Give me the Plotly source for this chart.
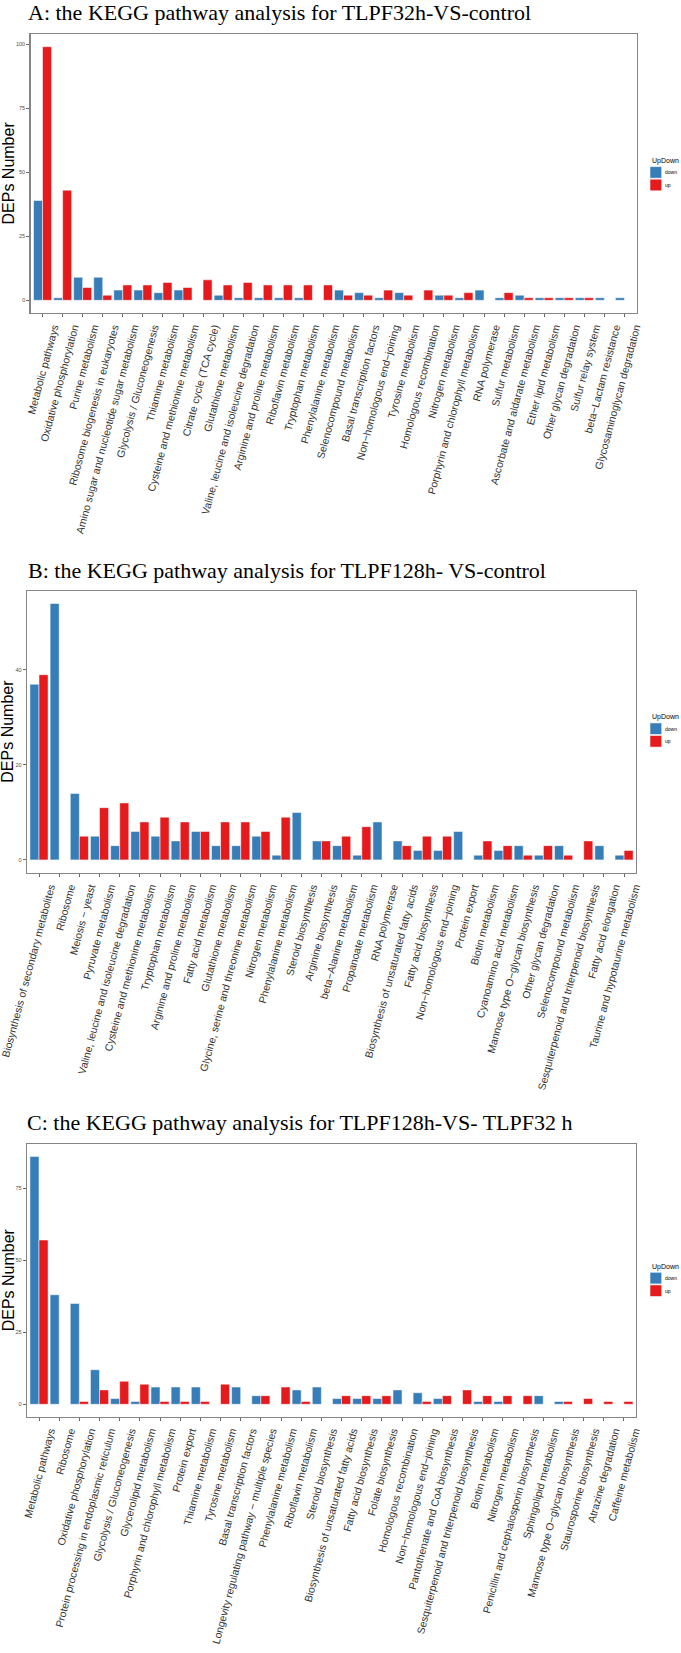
import plotly.graph_objects as go

W, H = 681, 1653

# ---------------- data ----------------
a_cats = ["Metabolic pathways", "Oxidative phosphorylation", "Purine metabolism",
          "Ribosome biogenesis in eukaryotes", "Amino sugar and nucleotide sugar metabolism",
          "Glycolysis / Gluconeogenesis", "Thiamine metabolism", "Cysteine and methionine metabolism",
          "Citrate cycle (TCA cycle)", "Glutathione metabolism",
          "Valine, leucine and isoleucine degradation", "Arginine and proline metabolism",
          "Riboflavin metabolism", "Tryptophan metabolism", "Phenylalanine metabolism",
          "Selenocompound metabolism", "Basal transcription factors", "Non\u2212homologous end\u2212joining",
          "Tyrosine metabolism", "Homologous recombination", "Nitrogen metabolism",
          "Porphyrin and chlorophyll metabolism", "RNA polymerase", "Sulfur metabolism",
          "Ascorbate and aldarate metabolism", "Ether lipid metabolism", "Other glycan degradation",
          "Sulfur relay system", "beta\u2212Lactam resistance", "Glycosaminoglycan degradation"]
a_down = [39, 1, 9, 9, 4, 4, 3, 4, None, 2, 1, 1, 1, 1, None, 4, 3, 1, 3, None, 2, 1, 4, 1, 2, 1, 1, 1, 1, 1]
a_up = [99, 43, 5, 2, 6, 6, 7, 5, 8, 6, 7, 6, 6, 6, 6, 2, 2, 4, 2, 4, 2, 3, None, 3, 1, 1, 1, 1, None, None]

b_cats = ["Biosynthesis of secondary metabolites", "Ribosome", "Meiosis \u2212 yeast", "Pyruvate metabolism",
          "Valine, leucine and isoleucine degradation", "Cysteine and methionine metabolism",
          "Tryptophan metabolism", "Arginine and proline metabolism", "Fatty acid metabolism",
          "Glutathione metabolism", "Glycine, serine and threonine metabolism", "Nitrogen metabolism",
          "Phenylalanine metabolism", "Steroid biosynthesis", "Arginine biosynthesis",
          "beta\u2212Alanine metabolism", "Propanoate metabolism", "RNA polymerase",
          "Biosynthesis of unsaturated fatty acids", "Fatty acid biosynthesis",
          "Non\u2212homologous end\u2212joining", "Protein export", "Biotin metabolism",
          "Cyanoamino acid metabolism", "Mannose type O\u2212glycan biosynthesis", "Other glycan degradation",
          "Selenocompound metabolism", "Sesquiterpenoid and triterpenoid biosynthesis",
          "Fatty acid elongation", "Taurine and hypotaurine metabolism"]
b_down = [37, 54, 14, 5, 3, 6, 5, 4, 6, 3, 3, 5, 1, 10, 4, 3, 1, 8, 4, 2, 2, 6, 1, 2, 3, 1, 3, None, 3, 1]
b_up = [39, None, 5, 11, 12, 8, 9, 8, 6, 8, 8, 6, 9, None, 4, 5, 7, None, 3, 5, 5, None, 4, 3, 1, 3, 1, 4, None, 2]

c_cats = ["Metabolic pathways", "Ribosome", "Oxidative phosphorylation",
          "Protein processing in endoplasmic reticulum", "Glycolysis / Gluconeogenesis",
          "Glycerolipid metabolism", "Porphyrin and chlorophyll metabolism", "Protein export",
          "Thiamine metabolism", "Tyrosine metabolism", "Basal transcription factors",
          "Longevity regulating pathway \u2212 multiple species", "Phenylalanine metabolism",
          "Riboflavin metabolism", "Steroid biosynthesis", "Biosynthesis of unsaturated fatty acids",
          "Fatty acid biosynthesis", "Folate biosynthesis", "Homologous recombination",
          "Non\u2212homologous end\u2212joining", "Pantothenate and CoA biosynthesis",
          "Sesquiterpenoid and triterpenoid biosynthesis", "Biotin metabolism", "Nitrogen metabolism",
          "Penicillin and cephalosporin biosynthesis", "Sphingolipid metabolism",
          "Mannose type O\u2212glycan biosynthesis", "Staurosporine biosynthesis", "Atrazine degradation",
          "Caffeine metabolism"]
c_down = [86, 38, 35, 12, 2, 1, 6, 6, 6, None, 6, 3, None, 5, 6, 2, 2, 2, 5, 4, 2, None, 1, 1, None, 3, 1, None, None, None]
c_up = [57, None, 1, 5, 8, 7, 1, 1, 1, 7, None, 3, 6, 1, None, 3, 3, 3, None, 1, 3, 5, 3, 3, 3, None, 1, 2, 1, 1]

titles = ["A: the KEGG pathway analysis for TLPF32h-VS-control",
          "B: the KEGG pathway analysis for TLPF128h- VS-control",
          "C: the KEGG pathway analysis for TLPF128h-VS- TLPF32 h"]
y_ticks = [[0, 25, 50, 75, 100], [0, 20, 40], [0, 25, 50, 75]]
series_names = ["down", "up"]
legend_title = "UpDown"
y_title = "DEPs Number"

BLUE = "#377EB8"
RED = "#E41A1C"
SANS = "Liberation Sans, Arial, sans-serif"
SERIF = "Liberation Serif, Times New Roman, serif"

# ---------------- layout geometry (pixels) ----------------
frames = [(30.5, 636.5, 34, 313), (26.9, 636.2, 590.7, 872.7), (26.9, 636.0, 1144, 1416.7)]
title_y = [12.5, 570, 1122]
title_x = [26, 26, 25]
legend_y = [161, 717.3, 1266.7]


def px(x):
    return x / W


def py(y):
    return 1 - y / H


fig = go.Figure()

panels = [(a_cats, a_down, a_up), (b_cats, b_down, b_up), (c_cats, c_down, c_up)]

for i, (cats, down, up) in enumerate(panels):
    xa = "x" if i == 0 else f"x{i + 1}"
    ya = "y" if i == 0 else f"y{i + 1}"
    for vals, name, col in [(down, series_names[0], BLUE), (up, series_names[1], RED)]:
        fig.add_trace(go.Bar(
            x=cats, y=vals, name=name, xaxis=xa, yaxis=ya,
            marker=dict(color=col, line=dict(color="rgba(255,255,255,0.75)", width=0.7)),
            showlegend=False, offsetgroup=name,
        ))

    l, r, t, b = frames[i]
    allv = [v for v in down + up if v is not None]
    vmax = max(allv)
    pad = 0.05 * vmax
    xname = "xaxis" if i == 0 else f"xaxis{i + 1}"
    yname = "yaxis" if i == 0 else f"yaxis{i + 1}"
    fig.update_layout(**{
        xname: dict(
            domain=[px(l), px(r)], anchor=ya, type="category",
            categoryorder="array", categoryarray=cats,
            range=[-0.6, len(cats) - 0.4],
            tickangle=-75, tickfont=dict(family=SANS, size=10.5, color="#333333"),
            ticklabelshift=11,
            ticks="outside", ticklen=3, tickwidth=0.8, tickcolor="#444444",
            showline=True, mirror=True, linecolor="#858585", linewidth=1.2,
            showgrid=False, zeroline=False, automargin=False, fixedrange=True,
        ),
        yname: dict(
            domain=[py(b), py(t)], anchor=xa,
            range=[-pad, vmax + pad],
            tickvals=y_ticks[i], ticktext=[str(v) for v in y_ticks[i]],
            tickfont=dict(family=SANS, size=5.5, color="#4d4d4d"),
            ticks="outside", ticklen=3, tickwidth=0.8, tickcolor="#444444",
            showline=True, mirror=True, linecolor="#858585", linewidth=1.2,
            showgrid=False, zeroline=False, automargin=False, fixedrange=True,
        ),
    })

    # panel title
    fig.add_annotation(text=titles[i], xref="paper", yref="paper",
                       x=px(title_x[i]), y=py(title_y[i]), xanchor="left", yanchor="middle",
                       showarrow=False, font=dict(family=SERIF, size=22, color="#000000"))
    # y-axis title
    fig.add_annotation(text=y_title, xref="paper", yref="paper",
                       x=px(8), y=py((t + b) / 2), xanchor="center", yanchor="middle",
                       textangle=-90, showarrow=False,
                       font=dict(family=SANS, size=16, color="#000000"))
    # legend
    ly = legend_y[i]
    fig.add_annotation(text=legend_title, xref="paper", yref="paper",
                       x=px(649.5), y=py(ly), xanchor="left", yanchor="middle",
                       showarrow=False, font=dict(family=SANS, size=7, color="#000000"))
    for k, (name, col) in enumerate([(series_names[0], BLUE), (series_names[1], RED)]):
        k_top = ly + 5.6 + k * 12.6
        k_bot = k_top + 11.6
        fig.add_shape(type="rect", xref="paper", yref="paper",
                      x0=px(650), x1=px(661.7), y0=py(k_bot), y1=py(k_top),
                      fillcolor=col, line=dict(color="rgba(255,255,255,0.8)", width=0.7))
        fig.add_annotation(text=name, xref="paper", yref="paper",
                           x=px(663), y=py((k_top + k_bot) / 2), xanchor="left", yanchor="middle",
                           showarrow=False, font=dict(family=SANS, size=5, color="#000000"))

fig.update_layout(
    width=W, height=H, autosize=False,
    margin=dict(l=0, r=0, t=0, b=0),
    paper_bgcolor="white", plot_bgcolor="white",
    barmode="group", bargap=0.1, bargroupgap=0,
    showlegend=False,
)

fig.write_html("out.html",
               config={"displayModeBar": False, "staticPlot": True},
               post_script="document.body.style.margin='0px';document.body.style.padding='0px';")
